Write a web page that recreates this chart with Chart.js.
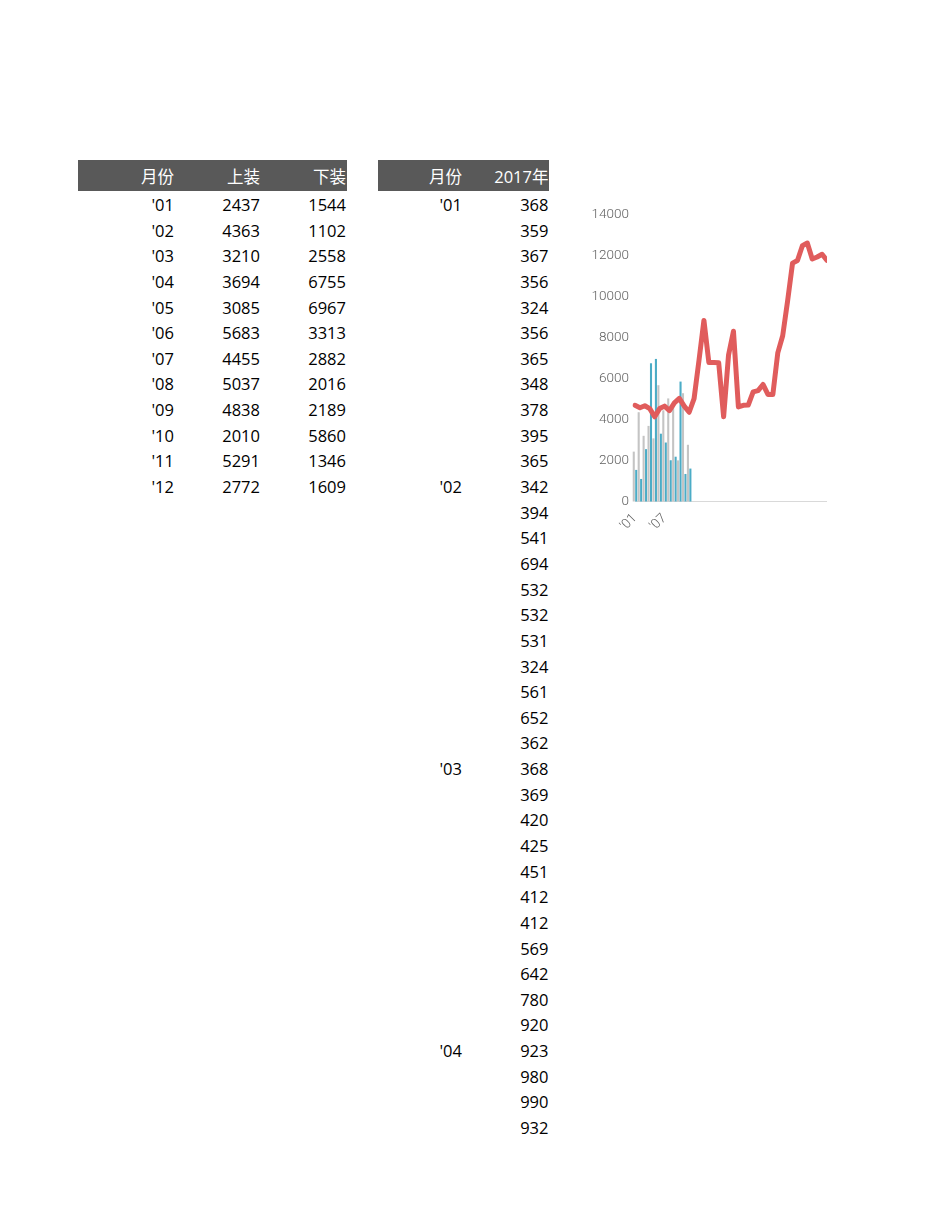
<!DOCTYPE html>
<html>
<head>
<meta charset="utf-8">
<script src="https://cdn.jsdelivr.net/npm/chart.js@4"></script>
<style>
  html, body { margin:0; padding:0; background:#fff; }
  body { width:950px; height:1230px; position:relative; overflow:hidden;
         font-family:"Open Sans","Noto Sans CJK SC",sans-serif; font-size:16.5px; color:#000; }
  .hdr { position:absolute; background:#595959; height:31px; top:160px; }
  .t { position:absolute; white-space:nowrap; text-align:right; line-height:26px; height:26px; }
  .w { color:#fff; }
  #wrap { position:absolute; left:580px; top:200px; width:247px; height:340px; }
</style>
</head>
<body>
<div class="hdr" style="left:78px;width:269px;"></div>
<div class="hdr" style="left:378px;width:171px;"></div>
<div id="cells"></div>
<div id="wrap"><canvas id="c"></canvas></div>
<script>
// ---- data ----
const months = ["'01","'02","'03","'04","'05","'06","'07","'08","'09","'10","'11","'12"];
const tops = [2437,4363,3210,3694,3085,5683,4455,5037,4838,2010,5291,2772];      // 上装
const bottoms = [1544,1102,2558,6755,6967,3313,2882,2016,2189,5860,1346,1609];   // 下装
const headers1 = ["月份","上装","下装"];
const headers2 = ["月份","2017年"];
const year2017 = [368,359,367,356,324,356,365,348,378,395,365,
                  342,394,541,694,532,532,531,324,561,652,362,
                  368,369,420,425,451,412,412,569,642,780,920,
                  923,980,990,932];
const year2017Months = {0:"'01",11:"'02",22:"'03",33:"'04"};
const lineValues = [4700,4580,4680,4540,4140,4540,4660,4440,4820,5040,4660,
                    4360,5030,6900,8850,6790,6790,6780,4140,7160,8320,
                    4620,4700,4710,5360,5420,5720,5230,5230,7260,8100,
                    9800,11650,11780,12500,12630,11850,11950,12080,11780];
const yTicks = [0,2000,4000,6000,8000,10000,12000,14000];

// ---- tables ----
const cells = document.getElementById('cells');
function put(text, right, cy, cls) {
  const d = document.createElement('div');
  d.className = 't' + (cls ? ' ' + cls : '');
  d.textContent = text;
  d.style.right = (950 - right) + 'px';
  d.style.top = (cy - 13) + 'px';
  cells.appendChild(d);
}
const rowH = 25.64, row0 = 205;
const cols1 = [174, 260, 346];
headers1.forEach((h, i) => put(h, cols1[i], 176.5, 'w'));
months.forEach((m, i) => {
  const cy = row0 + i * rowH;
  put(m, cols1[0], cy);
  put(String(tops[i]), cols1[1], cy);
  put(String(bottoms[i]), cols1[2], cy);
});
const cols2 = [462, 548.5];
headers2.forEach((h, i) => put(h, cols2[i], 176.5, 'w'));
year2017.forEach((v, i) => {
  const cy = row0 + i * rowH;
  if (year2017Months[i]) put(year2017Months[i], cols2[0], cy);
  put(String(v), cols2[1], cy);
});

// ---- chart ----
const labels = lineValues.map((_, i) => i < months.length ? months[i] : '');
const tickFont = { family:'Roboto', weight:300, size:13.5 };
new Chart(document.getElementById('c'), {
  data: {
    labels: labels,
    datasets: [
      { type:'line', data: lineValues, borderColor:'#E05C5C', borderWidth:5,
        pointRadius:0, tension:0, borderJoinStyle:'round', borderCapStyle:'round', order:0 },
      { type:'bar', data: tops, backgroundColor:'#C4C4C4', categoryPercentage:1,
        barPercentage:0.85, clip:false, order:1 },
      { type:'bar', data: bottoms, backgroundColor:'#4BACC6', categoryPercentage:1,
        barPercentage:0.85, clip:false, order:1 }
    ]
  },
  options: {
    responsive:true, maintainAspectRatio:false, animation:false,
    layout:{ padding:{ top:15, left:0, right:0, bottom:0 } },
    plugins:{ legend:{ display:false }, tooltip:{ enabled:false } },
    scales:{
      x:{ type:'category', offset:false,
          grid:{ display:false, drawTicks:false },
          border:{ display:true, color:'#D9D9D9', width:1 },
          ticks:{ autoSkip:false, maxRotation:45, minRotation:45, padding:9,
                  color:'#5F5F5F', font:tickFont,
                  callback:(v, i) => (i % 6 === 0 ? labels[i] : '') },
          afterFit:s => { s.height = 38.5; s.paddingLeft = 0; s.paddingRight = 0; } },
      y:{ min:0, max:14000,
          afterBuildTicks:s => { s.ticks = yTicks.map(v => ({ value:v })); },
          grid:{ display:false, drawTicks:false },
          border:{ display:false },
          ticks:{ padding:6, color:'#5F5F5F', font:tickFont, callback:v => String(v) },
          afterFit:s => { s.width = 55; s.paddingTop = 0; s.paddingBottom = 0; } }
    }
  }
});
</script>
</body>
</html>
